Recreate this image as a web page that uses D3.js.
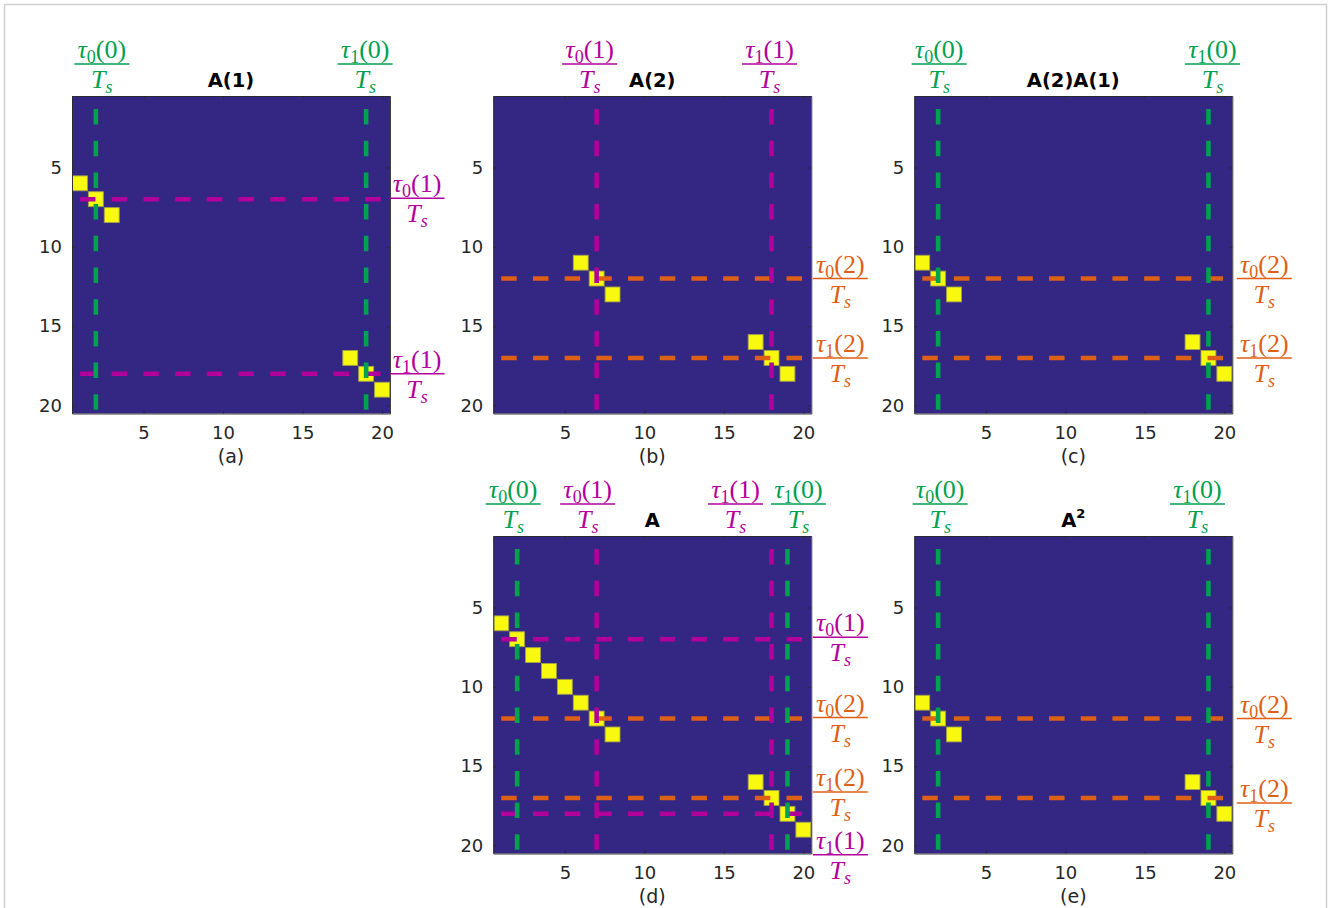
<!DOCTYPE html>
<html>
<head>
<meta charset="utf-8">
<script src="https://cdn.jsdelivr.net/npm/d3@7"></script>
<style>
  body { margin: 0; background: #fff; }
  svg { display: block; }
</style>
</head>
<body>
<script>
// nonzero entries of each matrix, as [column, row]
let cellsA1   = [[1,6],[2,7],[3,8],[18,17],[19,18],[20,19]];
let cellsA2   = [[6,11],[7,12],[8,13],[17,16],[18,17],[19,18]];
let cellsA2A1 = [[1,11],[2,12],[3,13],[18,16],[19,17],[20,18]];
let cellsA    = [[1,6],[2,7],[3,8],[4,9],[5,10],[6,11],[7,12],[8,13],
                 [17,16],[18,17],[19,18],[20,19]];
let cellsASq  = [[1,11],[2,12],[3,13],[18,16],[19,17],[20,18]];

// tau0(k)/Ts and tau1(k)/Ts for k = 0, 1, 2
let tau0 = [2, 7, 12];
let tau1 = [19, 18, 17];
let ticks = [5, 10, 15, 20];
let captions = ["(a)", "(b)", "(c)", "(d)", "(e)"];

let kColor = ["#00a150", "#b3009c", "#de5f16"];
let blue = "#332783";
let yellow = "#f8f90f";

let W = 1328, H = 908;
let svg = d3.select("body").append("svg")
  .attr("width", W)
  .attr("height", H);

// faint frame round the figure
svg.append("rect")
  .attr("x", 4.5).attr("y", 4.5)
  .attr("width", 1322).attr("height", 940)
  .attr("fill", "none")
  .attr("stroke", "#cfcfcf")
  .attr("stroke-width", 1.5);

let colX = [72, 493.3, 914.3];
let rowY = [96, 536];
let axW = 318, axH = 317.5;

let panels = [
  { cells: cellsA1, col: 0, row: 0, title: "A(1)", v: [0], h: [1],
    top: [[0,0,6],[1,0,-1]], right: [[0,1,-1],[1,1,0]], rdx: 27 },
  { cells: cellsA2, col: 1, row: 0, title: "A(2)", v: [1], h: [2],
    top: [[0,1,-7],[1,1,-2]], right: [[0,2,0],[1,2,0]], rdx: 29 },
  { cells: cellsA2A1, col: 2, row: 0, title: "A(2)A(1)", v: [0], h: [2],
    top: [[0,0,1],[1,0,4]], right: [[0,2,0],[1,2,0]], rdx: 32 },
  { cells: cellsA, col: 1, row: 1, title: "A", v: [0,1], h: [1,2],
    top: [[0,0,-4],[0,1,-9],[1,1,-36],[1,0,11]],
    right: [[0,1,-2],[0,2,-1],[1,2,-6],[1,1,41]], rdx: 29 },
  { cells: cellsASq, col: 2, row: 1, title: "A", sup: "2", v: [0], h: [2],
    top: [[0,0,2],[1,0,-11]], right: [[0,2,0],[1,2,5]], rdx: 32 }
];

let taus = [tau0, tau1];
let dash = "15.5,16.2";

function frac(g, cx, barY, t, k, color) {
  let num = g.append("text")
    .attr("x", cx).attr("y", barY - 6)
    .attr("text-anchor", "middle")
    .attr("font-family", "Liberation Serif, serif")
    .attr("font-size", 26)
    .attr("fill", color);
  num.append("tspan").attr("font-style", "italic").text("τ");
  num.append("tspan").attr("font-size", 18).attr("dy", 5).text(t);
  num.append("tspan").attr("dy", -5).text("(" + k + ")");

  g.append("line")
    .attr("x1", cx - 27.5).attr("x2", cx + 27.5)
    .attr("y1", barY).attr("y2", barY)
    .attr("stroke", color)
    .attr("stroke-width", 1.4);

  let den = g.append("text")
    .attr("x", cx).attr("y", barY + 24)
    .attr("text-anchor", "middle")
    .attr("font-family", "Liberation Serif, serif")
    .attr("font-style", "italic")
    .attr("font-size", 26)
    .attr("fill", color);
  den.append("tspan").text("T");
  den.append("tspan").attr("font-size", 18).attr("dy", 5).text("s");
}

panels.forEach(function(p, i) {
  let x0 = colX[p.col], y0 = rowY[p.row];
  let x = d3.scaleLinear().domain([0.5, 20.5]).range([x0, x0 + axW]);
  let y = d3.scaleLinear().domain([0.5, 20.5]).range([y0, y0 + axH]);
  let cw = x(2) - x(1), ch = y(2) - y(1);
  let g = svg.append("g");

  g.append("rect")
    .attr("x", x0).attr("y", y0)
    .attr("width", axW).attr("height", axH)
    .attr("fill", blue);

  g.selectAll("rect.cell")
    .data(p.cells)
    .enter()
    .append("rect")
    .attr("class", "cell")
    .attr("x", d => x(d[0] - 0.5) + 0.5)
    .attr("y", d => y(d[1] - 0.5) + 0.5)
    .attr("width", cw - 1)
    .attr("height", ch - 1)
    .attr("fill", yellow)
    .attr("stroke", "#a3a34a")
    .attr("stroke-width", 0.9);

  // horizontal dashed lines
  p.h.forEach(function(k) {
    [tau0[k], tau1[k]].forEach(function(v) {
      g.append("line")
        .attr("x1", x(1)).attr("x2", x(20))
        .attr("y1", y(v)).attr("y2", y(v))
        .attr("stroke", kColor[k])
        .attr("stroke-width", 4.6)
        .attr("stroke-dasharray", dash);
    });
  });
  // vertical dashed lines
  p.v.forEach(function(k) {
    [tau0[k], tau1[k]].forEach(function(v) {
      g.append("line")
        .attr("x1", x(v)).attr("x2", x(v))
        .attr("y1", y(0.5)).attr("y2", y(20.5) - 2)
        .attr("stroke", kColor[k])
        .attr("stroke-width", 4.6)
        .attr("stroke-dasharray", dash)
        .attr("stroke-dashoffset", 18.7);
    });
  });

  // axes, ticks pointing inward on all four sides
  let axStyle = function(s) {
    s.select(".domain").attr("stroke", "#2a2a2a").attr("stroke-width", 0.9);
    s.selectAll(".tick line").attr("stroke", "#2a2a2a").attr("stroke-width", 0.9);
    s.selectAll("text")
      .attr("font-family", "DejaVu Sans, sans-serif")
      .attr("font-size", 18)
      .attr("fill", "#262626");
  };
  g.append("g")
    .attr("transform", `translate(0,${y0 + axH})`)
    .call(d3.axisBottom(x).tickValues(ticks).tickSizeInner(-3).tickSizeOuter(0).tickPadding(13))
    .call(axStyle);
  g.append("g")
    .attr("transform", `translate(${x0},0)`)
    .call(d3.axisLeft(y).tickValues(ticks).tickSizeInner(-3).tickSizeOuter(0).tickPadding(10))
    .call(axStyle);
  g.append("g")
    .attr("transform", `translate(0,${y0})`)
    .call(d3.axisTop(x).tickValues(ticks).tickSizeInner(-3).tickSizeOuter(0).tickFormat(""))
    .call(axStyle);
  g.append("g")
    .attr("transform", `translate(${x0 + axW},0)`)
    .call(d3.axisRight(y).tickValues(ticks).tickSizeInner(-3).tickSizeOuter(0).tickFormat(""))
    .call(axStyle);

  // title
  let title = g.append("text")
    .attr("x", x0 + axW / 2).attr("y", y0 - 9)
    .attr("text-anchor", "middle")
    .attr("font-family", "DejaVu Sans, sans-serif")
    .attr("font-weight", "bold")
    .attr("font-size", 19.5)
    .attr("fill", "#000")
    .text(p.title);
  if (p.sup) {
    title.append("tspan")
      .attr("font-size", 13)
      .attr("dy", -9)
      .text(p.sup);
  }

  // caption
  g.append("text")
    .attr("x", x0 + axW / 2).attr("y", y0 + axH + 49.5)
    .attr("text-anchor", "middle")
    .attr("font-family", "DejaVu Sans, sans-serif")
    .attr("font-size", 19)
    .attr("fill", "#262626")
    .text(captions[i]);

  // tau labels above the axes
  p.top.forEach(function(l) {
    let t = l[0], k = l[1];
    frac(g, x(taus[t][k]) + l[2], y0 - 32, t, k, kColor[k]);
  });
  // tau labels right of the axes
  p.right.forEach(function(l) {
    let t = l[0], k = l[1];
    frac(g, x0 + axW + p.rdx, y(taus[t][k]) + l[2], t, k, kColor[k]);
  });
});
</script>
</body>
</html>
